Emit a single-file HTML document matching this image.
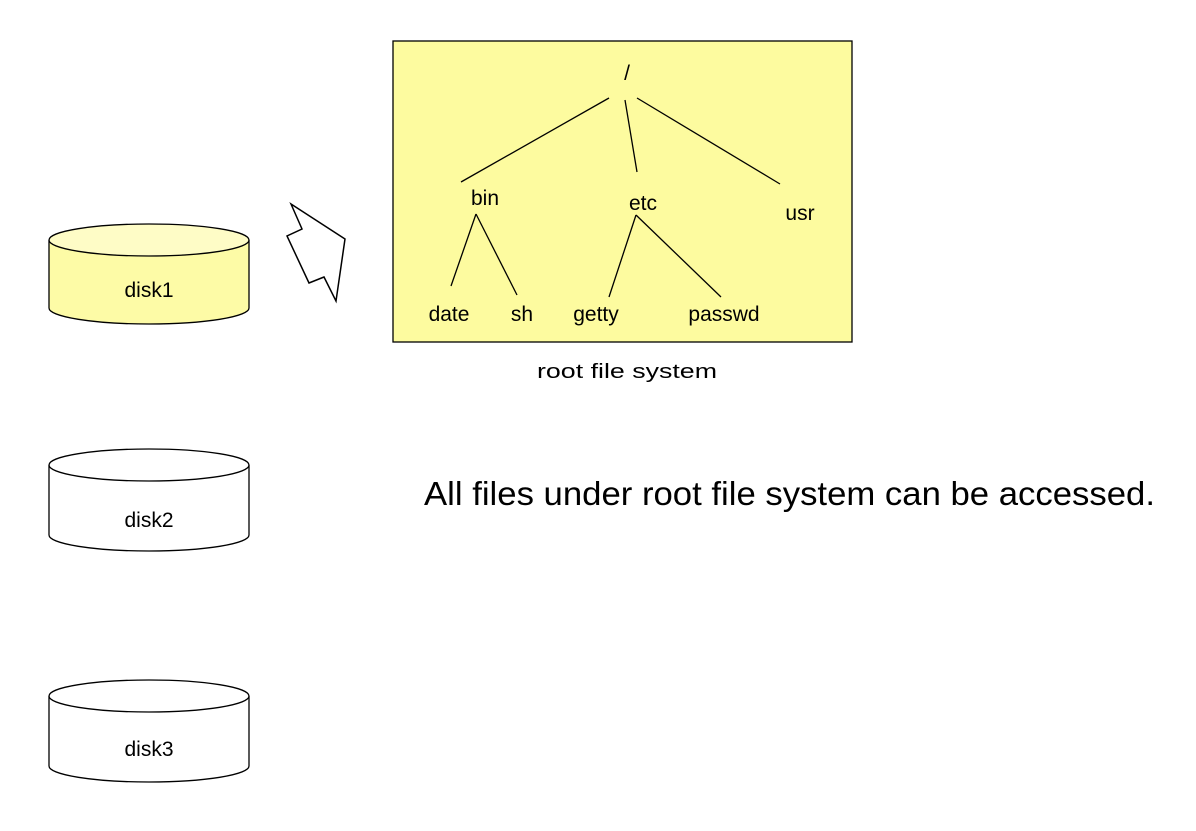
<!DOCTYPE html>
<html><head><style>
body{margin:0;background:#fff;}
svg text{font-family:"Liberation Sans",sans-serif;fill:#000;}
</style></head><body>
<svg width="1196" height="826" xmlns="http://www.w3.org/2000/svg">
<g stroke="#000" stroke-width="1.3">
<path d="M49,240 L49,308 A100,16 0 0 0 249,308 L249,240" fill="#fdfba6"/>
<ellipse cx="149" cy="240" rx="100" ry="16" fill="#fefcc6"/>
<path d="M49,465 L49,535 A100,16 0 0 0 249,535 L249,465" fill="#fff"/>
<ellipse cx="149" cy="465" rx="100" ry="16" fill="#fff"/>
<path d="M49,696 L49,766 A100,16 0 0 0 249,766 L249,696" fill="#fff"/>
<ellipse cx="149" cy="696" rx="100" ry="16" fill="#fff"/>
<polygon points="291,204 302,229 287,236 309,283 324,277 336,301 345,239" fill="#fff" stroke-width="1.5"/>
<rect x="393" y="41" width="459" height="301" fill="#fdfb9f"/>
<line x1="609" y1="98" x2="461" y2="182"/>
<line x1="625" y1="100" x2="637" y2="172"/>
<line x1="637" y1="98" x2="780" y2="184"/>
<line x1="476" y1="214" x2="451" y2="286"/>
<line x1="476" y1="214" x2="517" y2="295"/>
<line x1="636" y1="215" x2="609" y2="297"/>
<line x1="636" y1="215" x2="721" y2="297"/>
</g>
<g font-size="21" text-anchor="middle">
<text x="149" y="297">disk1</text>
<text x="149" y="527">disk2</text>
<text x="149" y="756">disk3</text>
<text x="627" y="80">/</text>
<text x="485" y="205">bin</text>
<text x="643" y="210">etc</text>
<text x="800" y="220">usr</text>
<text x="449" y="321">date</text>
<text x="522" y="321">sh</text>
<text x="596" y="321">getty</text>
<text x="724" y="321">passwd</text>
</g>
<text x="537" y="378" font-size="20" textLength="180" lengthAdjust="spacingAndGlyphs">root file system</text>
<text x="424" y="505" font-size="33" textLength="731" lengthAdjust="spacingAndGlyphs">All files under root file system can be accessed.</text>
</svg>
</body></html>
